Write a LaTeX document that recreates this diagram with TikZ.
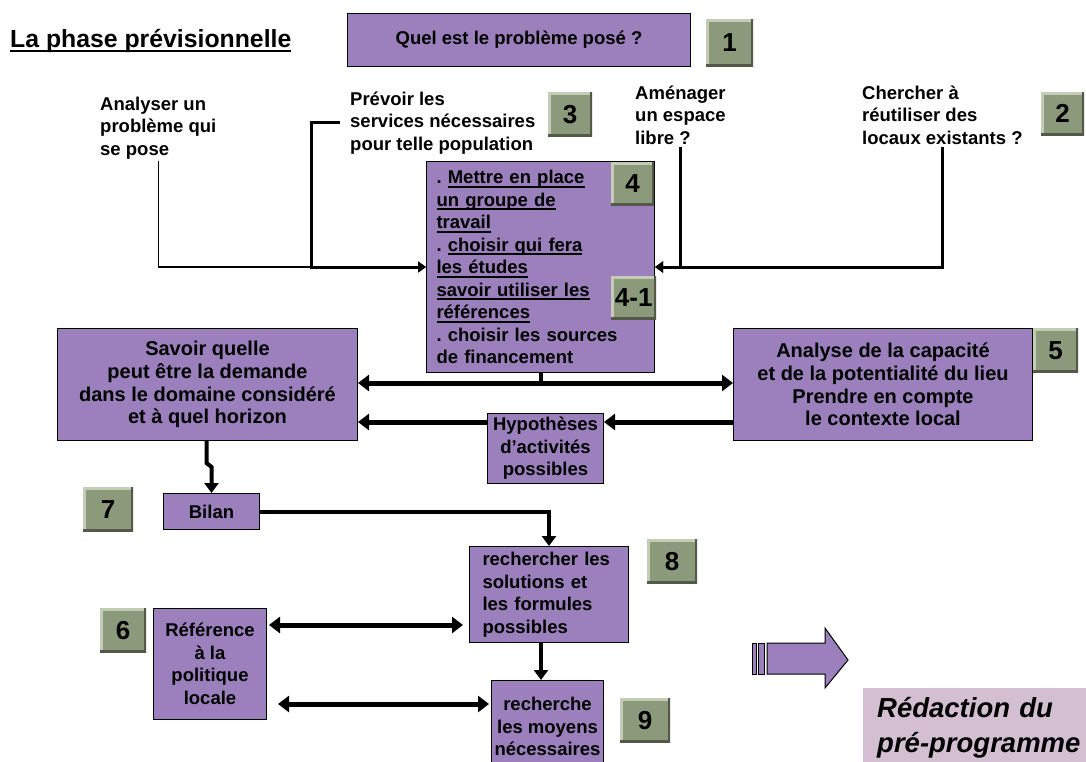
\documentclass[tikz,border=0pt]{standalone}
\usepackage{fontspec}
\setmainfont{Liberation Sans}
\usetikzlibrary{arrows.meta}
\definecolor{boxPurple}{RGB}{156,128,189}
\definecolor{badgeGreen}{RGB}{138,154,122}
\definecolor{badgeLight}{RGB}{196,204,182}
\definecolor{badgeDark}{RGB}{84,88,72}
\definecolor{notePink}{RGB}{212,190,210}
\frenchspacing
\newcommand{\boxfont}{\fontsize{18.5}{22.5}\selectfont\bfseries}
\newcommand{\bigboxfont}{\fontsize{20}{22.8}\selectfont\bfseries}
\newsavebox{\ulsave}
\newcommand{\ulbox}[1]{\leavevmode\sbox{\ulsave}{#1}\rlap{\rule[-4pt]{\wd\ulsave}{2pt}}\usebox{\ulsave}}

\begin{document}
\begin{tikzpicture}[x=1pt, y=-1pt,
    box/.style={draw=black, line width=1pt, fill=boxPurple, anchor=north west,
                inner sep=0pt, align=center, font=\boxfont},
    badge/.style={fill=badgeGreen, anchor=north west, inner sep=0pt,
                  minimum width=44pt, minimum height=44pt,
                  font=\fontsize{26}{26}\selectfont\bfseries,
                  path picture={
                    \draw[badgeLight, line width=5pt] (path picture bounding box.south west)
                      -- (path picture bounding box.north west) -- (path picture bounding box.north east);
                    \draw[badgeDark, line width=5pt] (path picture bounding box.north east)
                      -- (path picture bounding box.south east) -- (path picture bounding box.south west);}},
    note/.style={anchor=west, align=left, inner sep=2pt, font=\boxfont},
    thinlink/.style={line width=1.5pt, -{Triangle[width=9pt,length=7pt]}},
    link/.style={line width=3pt, -{Triangle[width=11pt,length=8pt]}},
    medium/.style={line width=4pt, -{Triangle[width=14pt,length=10pt]}},
    heavy/.style={line width=5pt, -{Triangle[width=16pt,length=11pt]}},
    twoway/.style={line width=5pt, {Triangle[width=16pt,length=11pt]}-{Triangle[width=16pt,length=11pt]}}]

  \useasboundingbox (0,0) rectangle (1086,762);

  % title and question
  \node[anchor=base west, inner sep=0pt, font=\fontsize{24.8}{25}\selectfont\bfseries] (title) at (10,48)
    {\ulbox{La phase prévisionnelle}};
  \node[box, minimum width=343pt, minimum height=53pt] (question) at (347,13) {Quel est le problème posé ?};
  \node[badge, minimum width=47pt, minimum height=47pt] (n1) at (706,19) {1};

  % free texts
  \node[note] (ana) at (98,128) {Analyser un\\problème qui\\se pose};
  \node[note] (prev) at (348,123) {Prévoir les\\services nécessaires\\pour telle population};
  \node[note] (amen) at (633,115) {Aménager\\un espace\\libre ?};
  \node[note] (cher) at (860,115) {Chercher à\\réutiliser des\\locaux existants ?};
  \node[badge] (n3) at (548,92) {3};
  \node[badge, minimum width=43pt, minimum height=43pt] (n2) at (1041,92) {2};

  % central box
  \node[box, align=left, text width=208pt, inner xsep=10pt, minimum height=211pt] (plan) at (426,161)
    {. \ulbox{Mettre en place}\\\ulbox{un groupe de}\\\ulbox{travail}\\. \ulbox{choisir qui fera}\\
     \ulbox{les études}\\\ulbox{savoir utiliser les}\\\ulbox{références}\\. choisir les sources\\de financement};
  \node[badge, minimum width=43pt, minimum height=43pt] (n4) at (611,162) {4};
  \node[badge, minimum width=45pt, minimum height=43pt] (n41) at (611,276) {4-1};

  % middle row
  \node[box, font=\bigboxfont, minimum width=300pt, minimum height=112pt] (demand) at (57,328)
    {Savoir quelle\\peut être la demande\\dans le domaine considéré\\et à quel horizon};
  \node[box, font=\bigboxfont, minimum width=299pt, minimum height=112pt] (site) at (733,328)
    {Analyse de la capacité\\et de la potentialité du lieu\\Prendre en compte\\le contexte local};
  \node[badge, minimum width=45pt] (n5) at (1033,328) {5};
  \node[box, minimum width=116pt, minimum height=70pt] (hyp) at (487,413)
    {Hypothèses\\d’activités\\possibles};

  % lower part
  \node[badge, minimum width=50pt] (n7) at (83,487) {7};
  \node[box, minimum width=96pt, minimum height=36pt] (bilan) at (163,493) {Bilan};
  \node[box, align=left, text width=133pt, inner xsep=13pt, minimum height=96pt] (solut) at (469,546)
    {rechercher les\\solutions et\\les formules\\possibles};
  \node[badge, minimum width=50pt] (n8) at (647,539) {8};
  \node[badge, minimum width=46pt] (n6) at (100,608) {6};
  \node[box, minimum width=113pt, minimum height=111pt] (politique) at (153,608)
    {Référence\\à la\\politique\\locale};
  \node[box, minimum width=112pt, minimum height=92pt] (moyens) at (491,680)
    {recherche\\les moyens\\nécessaires};
  \node[badge, minimum width=50pt] (n9) at (620,698) {9};

  % big arrow and final box
  \filldraw[fill=boxPurple, draw=black, line width=1pt] (752,643) rectangle (756,674);
  \filldraw[fill=boxPurple, draw=black, line width=1pt] (758,643) rectangle (764,674);
  \filldraw[fill=boxPurple, draw=black, line width=1pt] (767,643) -- (825,643) -- (825,628)
    -- (848,660) -- (825,688) -- (825,674) -- (767,674) -- cycle;
  \node[anchor=north west, fill=notePink, minimum height=80pt, text width=209pt, inner xsep=14pt,
        align=left, font=\fontsize{27.5}{35}\selectfont\bfseries\itshape] (redac) at (863,688)
    {Rédaction du\\pré-programme};

  % connectors
  \draw[thinlink] (ana.south) |- (plan.west);
  \draw[link] (prev.west) ++(-8,0) -- ++(-29,0) |- (plan.west);
  \draw[link] (amen.south) |- (plan.east);
  \draw[link] (cher.south) |- (plan.east);

  \coordinate (mid) at (0,383);
  \draw[line width=4pt] (plan.south) -- (plan.south |- mid);
  \draw[twoway] (demand.east |- mid) -- (site.west |- mid);
  \coordinate (low) at (0,422);
  \draw[heavy] (site.west |- low) -- (hyp.east |- low);
  \draw[heavy] (hyp.west |- low) -- (demand.east |- low);

  \draw[medium] (demand.south -| bilan.north) ++(-5,0) -- ++(0,22) -- ++(5,4) -- (bilan.north);
  \draw[medium] (bilan.east) -| (solut.north);
  \coordinate (drop) at (541,0);
  \draw[medium] (solut.south -| drop) -- (moyens.north -| drop);

  \coordinate (r1) at (0,625);
  \draw[twoway, shorten <=2pt, shorten >=6pt] (politique.east |- r1) -- (solut.west |- r1);
  \coordinate (r2) at (0,704);
  \draw[twoway, shorten <=11pt, shorten >=2pt] (politique.east |- r2) -- (moyens.west |- r2);
\end{tikzpicture}
\end{document}
